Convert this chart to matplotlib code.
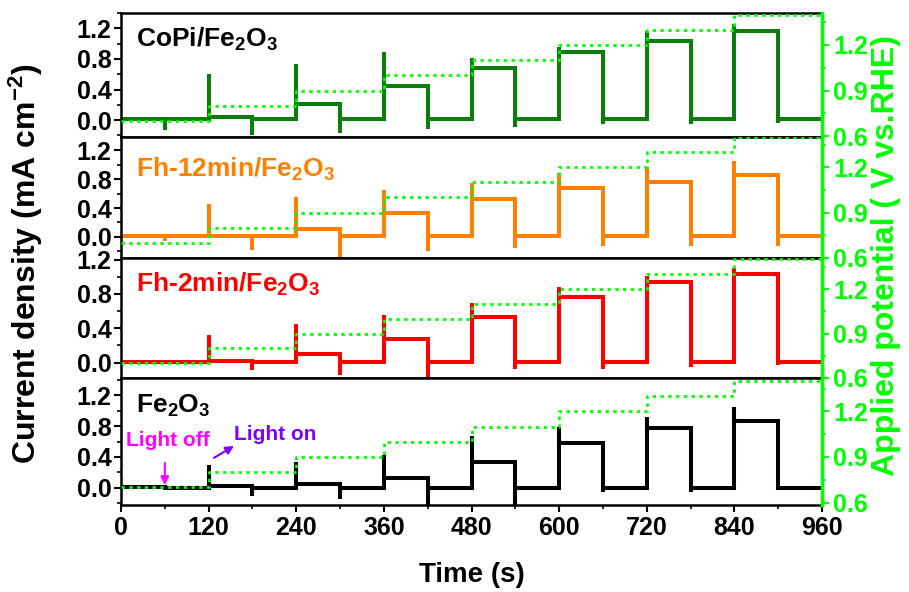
import numpy as np
import matplotlib
matplotlib.use("Agg")
from matplotlib import pyplot as plt
from matplotlib.ticker import MultipleLocator

plt.rcParams['font.family'] = ['Liberation Sans', 'DejaVu Sans']
plt.rcParams['font.weight'] = 'bold'
plt.rcParams['mathtext.fontset'] = 'custom'
plt.rcParams['mathtext.rm'] = 'Liberation Sans:bold'
plt.rcParams['mathtext.bf'] = 'Liberation Sans:bold'
plt.rcParams['mathtext.default'] = 'bf'

# light on at 0,120,...,840 ; light off at 60,180,...,900
step_starts = [0, 120, 240, 360, 480, 600, 720, 840]
potential = [0.7, 0.8, 0.9, 1.0, 1.1, 1.2, 1.3, 1.4]

names = ["CoPi/Fe$_2$O$_3$", "Fh-12min/Fe$_2$O$_3$", "Fh-2min/Fe$_2$O$_3$", "Fe$_2$O$_3$"]
colors = ["#0a7d0a", "#ff8000", "#ff0000", "#000000"]
label_colors = ["#000000", "#ff8000", "#ff0000", "#000000"]

copi_on = [0.01, 0.04, 0.21, 0.44, 0.68, 0.89, 1.04, 1.16]
copi_spike = [0.01, 0.60, 0.73, 0.89, 0.81, 0.96, 1.16, 1.25]
copi_dip = [-0.13, -0.20, -0.17, -0.11, -0.09, -0.05, -0.05, -0.04]
copi_dark = 0.01

fh12_on = [0.02, 0.02, 0.11, 0.33, 0.52, 0.67, 0.76, 0.85]
fh12_spike = [0.02, 0.45, 0.55, 0.65, 0.74, 0.88, 0.97, 1.05]
fh12_dip = [-0.06, -0.18, -0.29, -0.20, -0.15, -0.12, -0.12, -0.12]
fh12_dark = 0.015

fh2_on = [0.01, 0.02, 0.10, 0.27, 0.53, 0.77, 0.94, 1.03]
fh2_spike = [0.01, 0.32, 0.45, 0.55, 0.70, 0.88, 1.01, 1.10]
fh2_dip = [-0.02, -0.09, -0.15, -0.18, -0.07, -0.07, -0.05, -0.03]
fh2_dark = 0.01

fe_on = [0.01, 0.02, 0.05, 0.125, 0.33, 0.58, 0.77, 0.86]
fe_spike = [0.01, 0.30, 0.33, 0.43, 0.67, 0.79, 0.91, 1.05]
fe_dip = [-0.03, -0.10, -0.14, -0.22, -0.22, -0.05, -0.05, -0.03]
fe_dark = 0.005

data = [(copi_on, copi_spike, copi_dip, copi_dark),
        (fh12_on, fh12_spike, fh12_dip, fh12_dark),
        (fh2_on, fh2_spike, fh2_dip, fh2_dark),
        (fe_on, fe_spike, fe_dip, fe_dark)]

left_ylims = [(-0.22, 1.40), (-0.29, 1.38), (-0.18, 1.22), (-0.22, 1.42)]
right_ylims = [(0.595, 1.41), (0.603, 1.40), (0.614, 1.41), (0.584, 1.42)]
title_base = [0.728, 0.67, 0.717, 0.727]

# panel boxes in pixels (top, bottom)
W, H = 909, 592
boxes = [(13, 137), (137, 258), (258, 378), (378, 505)]
x0, x1 = 121, 822

fig = plt.figure(figsize=(W / 100, H / 100), dpi=100)

green = "#00ff00"
tick_fs = 18

for i in range(4):
    top, bot = boxes[i]
    ax = fig.add_axes([x0 / W, 1 - bot / H, (x1 - x0) / W, (bot - top) / H])
    on, spike, dip, dark = data[i]
    t, y = [], []
    for k in range(8):
        s = step_starts[k]
        t += [s, s, s, s + 60, s + 60, s + 60, s + 120]
        y += [dark, spike[k], on[k], on[k], dip[k], dark, dark]
    ax.plot(t, y, color=colors[i], lw=2.9, solid_joinstyle='miter')
    ax.set_xlim(0, 960)
    ax.set_ylim(*left_ylims[i])
    ax.yaxis.set_minor_locator(MultipleLocator(0.2))
    ax.set_yticks([0.0, 0.4, 0.8, 1.2])
    ax.set_yticklabels(["0.0", "0.4", "0.8", "1.2"], fontsize=tick_fs, fontweight='bold')
    ax.tick_params(axis='y', which='major', direction='out', length=5, width=1.5, pad=2)
    ax.tick_params(axis='y', which='minor', direction='out', length=3, width=1.2)
    for sp in ax.spines.values():
        sp.set_linewidth(1.8)
    ax.text(0.022, title_base[i], names[i], transform=ax.transAxes,
            fontsize=19, fontweight='bold', color=label_colors[i],
            ha='left', va='baseline')
    if i < 3:
        ax.tick_params(axis='x', which='both', bottom=False, labelbottom=False)
    else:
        ax.set_xticks(range(0, 961, 120))
        ax.set_xticklabels([str(v) for v in range(0, 961, 120)], fontsize=tick_fs, fontweight='bold')
        ax.xaxis.set_minor_locator(MultipleLocator(60))
        ax.tick_params(axis='x', which='major', direction='out', length=5, width=1.5, pad=3)
        ax.tick_params(axis='x', which='minor', direction='out', length=3, width=1.2)

    ax2 = ax.twinx()
    ax2.plot(step_starts + [960], potential + [potential[-1]], drawstyle='steps-post',
             color=green, lw=2, linestyle=(0, (1.2, 1.6)))
    ax2.set_ylim(*right_ylims[i])
    ax2.set_yticks([0.6, 0.9, 1.2])
    ax2.set_yticklabels(["0.6", "0.9", "1.2"], fontsize=tick_fs, fontweight='bold')
    ax2.yaxis.set_minor_locator(MultipleLocator(0.15))
    ax2.tick_params(axis='y', which='major', direction='out', length=5, width=1.5,
                    colors=green, pad=3)
    ax2.tick_params(axis='y', which='minor', direction='out', length=3, width=1.2, colors=green)
    ax2.spines['right'].set_color(green)
    ax2.spines['right'].set_linewidth(2.5)
    for s in ['top', 'bottom', 'left']:
        ax2.spines[s].set_visible(False)

    if i == 3:
        ax.annotate("", xy=(60, 0.0), xytext=(60, 0.36),
                    arrowprops=dict(arrowstyle='-|>', color='#ff00ff', lw=1.5, mutation_scale=12))
        ax.text(64, 0.61, "Light off", color='#ff00ff', fontsize=15, fontweight='bold',
                ha='center', va='center')
        ax.annotate("", xy=(158, 0.56), xytext=(124, 0.37),
                    arrowprops=dict(arrowstyle='-|>', color='#8000ff', lw=1.5, mutation_scale=12))
        ax.text(155, 0.69, "Light on", color='#8000ff', fontsize=15, fontweight='bold',
                ha='left', va='center')

fig.text(26 / W, 1 - 264 / H, "Current density (mA cm$^{-2}$)", rotation=90,
         fontsize=23, fontweight='bold', ha='center', va='center')
fig.text(886 / W, 1 - 255 / H, "Applied potential ( V vs.RHE)", rotation=90,
         fontsize=23, fontweight='bold', ha='center', va='center', color=green)
fig.text((x0 + x1) / 2 / W, 1 - 575 / H, "Time (s)", fontsize=20, fontweight='bold',
         ha='center', va='center')

fig.savefig("out.png", dpi=100)
